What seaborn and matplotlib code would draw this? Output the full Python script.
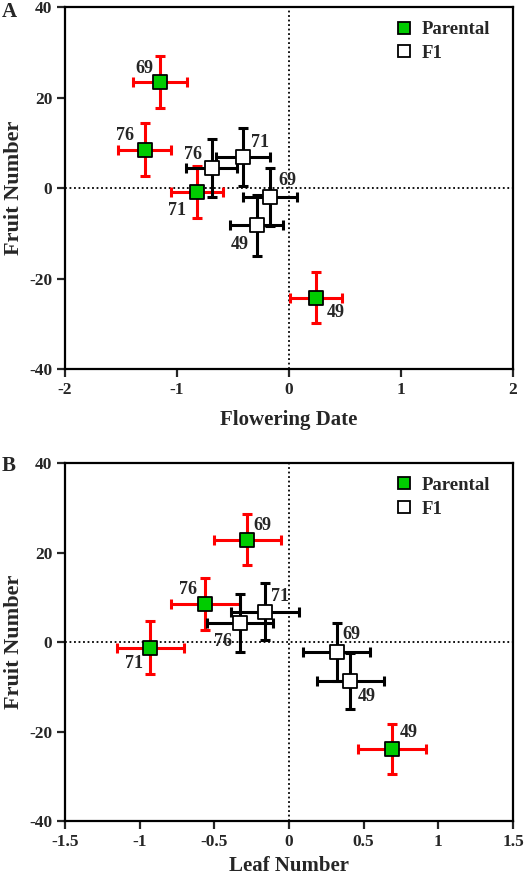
import matplotlib
matplotlib.use("Agg")
import matplotlib.pyplot as plt
import seaborn as sns
import pandas as pd
from matplotlib.lines import Line2D

sns.set_style("white")
plt.rcParams['font.family'] = ['Liberation Serif', 'DejaVu Serif']
plt.rcParams['font.weight'] = 'bold'

# ---------------- data ----------------
lines = ["69", "76", "71", "49"]

# Panel A: Flowering Date vs Fruit Number
a_par_x = [-1.15, -1.29, -0.82, 0.24]
a_par_y = [23.4, 8.5, -0.9, -24.2]
a_par_xerr = [0.24, 0.24, 0.235, 0.235]
a_par_yerr = [5.8, 5.8, 5.8, 5.65]

a_f1_x = [-0.17, -0.69, -0.41, -0.29]
a_f1_y = [-2.0, 4.5, 6.8, -8.2]
a_f1_xerr = [0.24, 0.23, 0.24, 0.24]
a_f1_yerr = [6.35, 6.4, 6.4, 6.75]

# Panel B: Leaf Number vs Fruit Number
b_par_x = [-0.28, -0.56, -0.93, 0.69]
b_par_y = [22.9, 8.6, -1.2, -23.8]
b_par_xerr = [0.225, 0.23, 0.225, 0.225]
b_par_yerr = [5.65, 5.8, 6.0, 5.6]

b_f1_x = [0.32, -0.33, -0.16, 0.41]
b_f1_y = [-2.1, 4.35, 6.8, -8.65]
b_f1_xerr = [0.225, 0.22, 0.228, 0.223]
b_f1_yerr = [6.5, 6.5, 6.4, 6.3]

groups = ["Parental", "F1"]
x_label_a = "Flowering Date"
x_label_b = "Leaf Number"
y_label = "Fruit Number"
xticks_a = [-2, -1, 0, 1, 2]
xticks_b = [-1.5, -1, -0.5, 0, 0.5, 1, 1.5]
xticklabels_b = ["-1.5", "-1", "-0.5", "0", "0.5", "1", "1.5"]
yticks = [-40, -20, 0, 20, 40]

# label offsets (pixels), per line order 69,76,71,49
a_par_off = [(-16, 14), (-20, 14), (-20, -18), (20, -15)]
a_f1_off = [(17, 17), (-19, 13), (17, 15), (-17, -19)]
b_par_off = [(15, 14), (-17, 14), (-16, -16), (17, 16)]
b_f1_off = [(15, 17), (-17, -19), (15, 15), (17, -16)]

GREEN = "#00cc00"
RED = "#ff0000"

fig = plt.figure(figsize=(5.25, 8.77), dpi=100)
axA = fig.add_axes([0.1238, 0.5792, 0.8533, 0.4128])
axB = fig.add_axes([0.1238, 0.0633, 0.8533, 0.4088])


def draw(ax, px, py, pxe, pye, fx, fy, fxe, fye, poff, foff):
    ax.axhline(0, color="black", ls=(0, (1, 1.5)), lw=1.3, zorder=1)
    ax.axvline(0, color="black", ls=(0, (1, 1.5)), lw=1.3, zorder=1)
    ekw = dict(fmt="none", elinewidth=2.2, capsize=3.6, capthick=2.2)
    ax.errorbar(px, py, xerr=pxe, yerr=pye, ecolor=RED, zorder=2, **ekw)
    ax.errorbar(fx, fy, xerr=fxe, yerr=fye, ecolor="black", zorder=3, **ekw)
    df = pd.DataFrame({
        "x": list(px) + list(fx),
        "y": list(py) + list(fy),
        "group": ["Parental"] * len(px) + ["F1"] * len(fx),
    })
    sns.scatterplot(data=df[df.group == "Parental"], x="x", y="y", ax=ax,
                    color=GREEN, marker="s", s=90, edgecolor="black",
                    linewidth=1.3, zorder=4, legend=False)
    sns.scatterplot(data=df[df.group == "F1"], x="x", y="y", ax=ax,
                    color="white", marker="s", s=90, edgecolor="black",
                    linewidth=1.3, zorder=5, legend=False)
    for lab, x, y, off in zip(lines, px, py, poff):
        ax.annotate(lab, (x, y), xytext=off, textcoords="offset pixels",
                    ha="center", va="center", fontsize=13, fontweight="bold",
                    zorder=6)
    for lab, x, y, off in zip(lines, fx, fy, foff):
        ax.annotate(lab, (x, y), xytext=off, textcoords="offset pixels",
                    ha="center", va="center", fontsize=13, fontweight="bold",
                    zorder=6)
    handles = [
        Line2D([], [], marker="s", ls="none", markerfacecolor=GREEN,
               markeredgecolor="black", markersize=9, markeredgewidth=1.3),
        Line2D([], [], marker="s", ls="none", markerfacecolor="white",
               markeredgecolor="black", markersize=9, markeredgewidth=1.3),
    ]
    ax.legend(handles, groups, loc="upper right", frameon=False,
              prop=dict(size=13.5, weight="bold"), handletextpad=0.3,
              handlelength=1.2, borderaxespad=0, labelspacing=0.35,
              bbox_to_anchor=(0.965, 0.982))
    ax.set_ylim(-40, 40)
    ax.set_yticks(yticks)
    for s in ax.spines.values():
        s.set_visible(True)
        s.set_linewidth(1.6)
        s.set_color("black")
    ax.tick_params(axis="both", direction="out", length=6, width=1.6,
                   labelsize=12.5, left=True, bottom=True, pad=3)
    for t in ax.get_xticklabels() + ax.get_yticklabels():
        t.set_fontweight("bold")
    ax.set_ylabel(y_label, fontsize=16, fontweight="bold", labelpad=4)


draw(axA, a_par_x, a_par_y, a_par_xerr, a_par_yerr,
     a_f1_x, a_f1_y, a_f1_xerr, a_f1_yerr, a_par_off, a_f1_off)
axA.set_xlim(-2, 2)
axA.set_xticks(xticks_a)
axA.set_xticklabels([str(v) for v in xticks_a], fontweight="bold")
axA.set_yticklabels([str(v) for v in yticks], fontweight="bold")
axA.set_xlabel(x_label_a, fontsize=15, fontweight="bold", labelpad=9)

draw(axB, b_par_x, b_par_y, b_par_xerr, b_par_yerr,
     b_f1_x, b_f1_y, b_f1_xerr, b_f1_yerr, b_par_off, b_f1_off)
axB.set_xlim(-1.5, 1.5)
axB.set_xticks(xticks_b)
axB.set_xticklabels(xticklabels_b, fontweight="bold")
axB.set_yticklabels([str(v) for v in yticks], fontweight="bold")
axB.set_xlabel(x_label_b, fontsize=15, fontweight="bold", labelpad=4)

fig.text(2 / 525, 1 - 12 / 877, "A", fontsize=15, fontweight="bold",
         ha="left", va="center")
fig.text(2 / 525, 1 - 466 / 877, "B", fontsize=15, fontweight="bold",
         ha="left", va="center")

fig.savefig("out.png", dpi=100)
